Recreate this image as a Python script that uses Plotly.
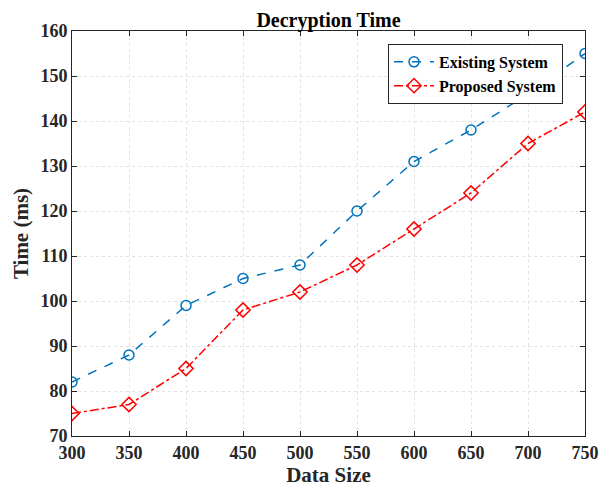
import plotly.graph_objects as go

data_size = [300, 350, 400, 450, 500, 550, 600, 650, 700, 750]
existing = [82, 88, 99, 105, 108, 120, 131, 138, 146, 155]
proposed = [75, 77, 85, 98, 102, 108, 116, 124, 135, 142]
x_ticks = [300, 350, 400, 450, 500, 550, 600, 650, 700, 750]
y_ticks = [70, 80, 90, 100, 110, 120, 130, 140, 150, 160]

FONT = "Liberation Serif"

fig = go.Figure()
fig.add_trace(go.Scatter(
    x=data_size, y=existing, name="Existing System", mode="lines+markers",
    line=dict(color="#0072BD", width=1.5, dash="dash"),
    marker=dict(symbol="circle-open", size=10, color="#0072BD", line=dict(width=1.5)),
))
fig.add_trace(go.Scatter(
    x=data_size, y=proposed, name="Proposed System", mode="lines+markers",
    line=dict(color="#FF0000", width=1.5, dash="dashdot"),
    marker=dict(symbol="diamond-open", size=11, color="#FF0000", line=dict(width=1.5)),
))

axis_common = dict(
    showline=True, linecolor="#262626", linewidth=1, mirror="ticks",
    ticks="inside", ticklen=5, tickcolor="#262626",
    showgrid=True, gridcolor="#E3E3E3", griddash="dot", gridwidth=1,
    zeroline=False, automargin=False,
    tickfont=dict(family=FONT, size=18, color="#262626", weight="bold"),
)

fig.update_layout(
    width=605, height=480,
    margin=dict(l=64, r=28, t=23, b=52),
    paper_bgcolor="white", plot_bgcolor="white",
    title=dict(text="Decryption Time", x=0.5, xanchor="center", xref="paper",
               y=1.0, yanchor="top", pad=dict(t=5),
               font=dict(family=FONT, size=20, color="black", weight="bold")),
    xaxis=dict(range=[300, 750], tickvals=x_ticks,
               title=dict(text="Data Size", standoff=2,
                          font=dict(family=FONT, size=21, color="#262626", weight="bold")),
               **axis_common),
    yaxis=dict(range=[70, 160], tickvals=y_ticks,
               title=dict(text="Time (ms)", standoff=6,
                          font=dict(family=FONT, size=21, color="#262626", weight="bold")),
               **axis_common),
    legend=dict(x=0.616, y=0.968, xanchor="left", yanchor="top",
                bgcolor="white", bordercolor="#262626", borderwidth=1,
                font=dict(family=FONT, size=16, color="black", weight="bold"),
                tracegroupgap=0, itemwidth=40),
    showlegend=True,
)

fig.write_html("out.html")
